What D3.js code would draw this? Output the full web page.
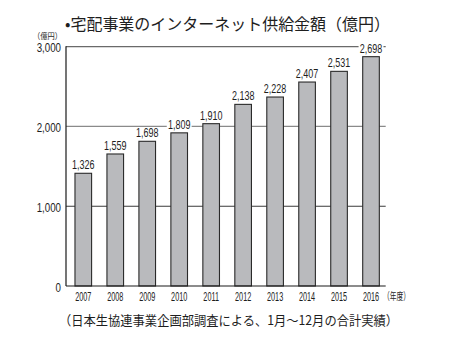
<!DOCTYPE html>
<html>
<head>
<meta charset="utf-8">
<script src="https://cdn.jsdelivr.net/npm/d3@7"></script>
<style>
  html, body { margin: 0; padding: 0; background: #fff; }
  svg { display: block; }
  .jp { font-family: "Noto Sans CJK JP", "Noto Sans", sans-serif; fill: #1e1e1e; }
  .num { font-family: "Liberation Sans", Arial, sans-serif; fill: #1e1e1e; }
</style>
</head>
<body>
<svg id="chart" width="452" height="339"></svg>
<script>
// ---- data ----
const years = ["2007","2008","2009","2010","2011","2012","2013","2014","2015","2016"];
const labelValues = [1326, 1559, 1698, 1809, 1910, 2138, 2228, 2407, 2531, 2698];
// bar heights as drawn in the reference
const barValues = [1413, 1655, 1814, 1920, 2035, 2277, 2369, 2557, 2691, 2875];
const yTicks = [0, 1000, 2000, 3000];
const titleText = "•宅配事業のインターネット供給金額（億円）";
const unitText = "（億円）";
const xUnitText = "（年度）";
const noteText = "（日本生協連事業企画部調査による、1月～12月の合計実績）";

// ---- layout ----
const svg = d3.select("#chart");
const pLeft = 66, pRight = 385.7, pTop = 46.7, pBottom = 286;
const y = d3.scaleLinear().domain([0, 3000]).range([pBottom, pTop]);
const x = d3.scaleBand().domain(years).range([pLeft + 1.3, pRight + 1.3])
  .paddingInner(0.48).paddingOuter(0.24);
const fmt = d3.format(",");
const gridColor = {1000: "#3a3a3a", 2000: "#8a8a8a", 3000: "#6a6a6a"};

// condensed text helper
function ctext(g, px, py, str, size, sx, anchor, cls) {
  return g.append("text")
    .attr("class", cls || "num")
    .attr("transform", `translate(${px},${py}) scale(${sx},1)`)
    .attr("text-anchor", anchor)
    .attr("font-size", size)
    .text(str);
}

// title
svg.append("text").attr("class", "jp")
  .attr("x", 65).attr("y", 30)
  .attr("font-size", 16)
  .attr("textLength", 325).attr("lengthAdjust", "spacingAndGlyphs")
  .text(titleText);

// unit
svg.append("text").attr("class", "jp")
  .attr("x", 33).attr("y", 38.5)
  .attr("font-size", 8.5)
  .attr("textLength", 29).attr("lengthAdjust", "spacingAndGlyphs")
  .text(unitText);

// gridlines (non-zero ticks)
svg.append("g").selectAll("line")
  .data(yTicks.filter(d => d > 0))
  .join("line")
  .attr("x1", pLeft).attr("x2", pRight)
  .attr("y1", d => y(d)).attr("y2", d => y(d))
  .attr("stroke", d => gridColor[d])
  .attr("stroke-width", 1.2);

// bars
svg.append("g").selectAll("rect")
  .data(years)
  .join("rect")
  .attr("x", d => x(d))
  .attr("width", x.bandwidth())
  .attr("y", (d, i) => y(barValues[i]))
  .attr("height", (d, i) => pBottom - y(barValues[i]))
  .attr("fill", "#b9babd")
  .attr("stroke", "#2a2a2a")
  .attr("stroke-width", 1.1);

// value labels with white background
const lg = svg.append("g");
years.forEach((yr, i) => {
  const cx = x(yr) + x.bandwidth() / 2;
  const by = y(barValues[i]) - 4;
  const t = ctext(lg, cx, by, fmt(labelValues[i]), 12.5, 0.72, "middle");
  const bb = t.node().getBBox();
  const w = bb.width * 0.72;
  lg.insert("rect", () => t.node())
    .attr("x", cx - w / 2 - 1.2).attr("y", by - 9.5)
    .attr("width", w + 2.4).attr("height", 11)
    .attr("fill", "#fff");
});

// axes lines
svg.append("line").attr("x1", pLeft).attr("x2", pLeft).attr("y1", pTop - 0.5).attr("y2", pBottom)
  .attr("stroke", "#1a1a1a").attr("stroke-width", 1.2);
svg.append("line").attr("x1", pLeft).attr("x2", pRight).attr("y1", pBottom).attr("y2", pBottom)
  .attr("stroke", "#1a1a1a").attr("stroke-width", 1.2);

// y tick labels
const tg = svg.append("g");
yTicks.forEach(v => {
  ctext(tg, 61, y(v) + 5.5, fmt(v), 12.5, 0.78, "end");
});

// x labels
const xg = svg.append("g");
years.forEach(yr => {
  ctext(xg, x(yr) + x.bandwidth() / 2, 300.5, yr, 13, 0.56, "middle");
});
svg.append("text").attr("class", "jp")
  .attr("x", 383).attr("y", 300)
  .attr("font-size", 10.5)
  .attr("textLength", 27).attr("lengthAdjust", "spacingAndGlyphs")
  .text(xUnitText);

// footnote
svg.append("text").attr("class", "jp")
  .attr("x", 59).attr("y", 325)
  .attr("font-size", 13)
  .attr("textLength", 339).attr("lengthAdjust", "spacingAndGlyphs")
  .text(noteText);
</script>
</body>
</html>
